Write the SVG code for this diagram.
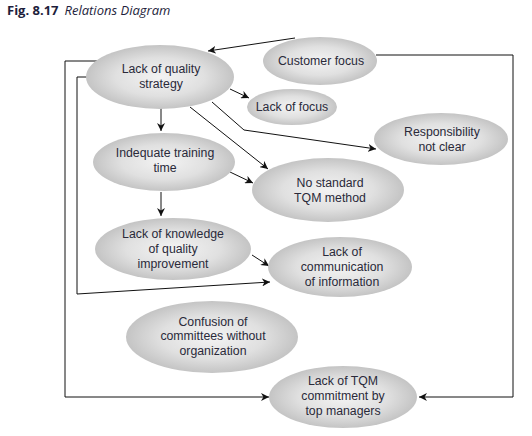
<svg xmlns="http://www.w3.org/2000/svg" width="532" height="436" viewBox="0 0 532 436">
<defs>
<radialGradient id="g" cx="50%" cy="50%" r="50%">
<stop offset="0" stop-color="#f3f3f3"/>
<stop offset="0.6" stop-color="#e0e0e0"/>
<stop offset="1" stop-color="#c4c4c4"/>
</radialGradient>
<marker id="a" viewBox="0 0 10 10" refX="10" refY="5" markerWidth="8" markerHeight="8" markerUnits="userSpaceOnUse" orient="auto">
<path d="M0,0 L10,5 L0,10 L3,5 Z" fill="#111"/>
</marker>
<style>
.n ellipse{fill:url(#g);}
.n text{font-family:"Liberation Sans",Arial,sans-serif;font-size:12.3px;fill:#2a2a3a;text-anchor:middle;}
.c path{fill:none;stroke:#111;stroke-width:1;marker-end:url(#a);}
.c path.p{marker-end:none;}
.t{font-family:"Open Sans","Liberation Sans",sans-serif;font-size:13px;fill:#1e1e3c;}
</style>
</defs>
<rect width="532" height="436" fill="#fff"/>
<text class="t" x="7" y="15"><tspan font-weight="bold">Fig. 8.17</tspan><tspan font-style="italic" dx="6">Relations Diagram</tspan></text>

<g class="c" id="connectors">
<path d="M295,38 L208,51"/>
<path class="p" d="M376,55 L513,55 L513,397"/>
<path d="M513,397 L419,397"/>
<path d="M97,61 L65,61 L65,397 L269,397"/>
<path d="M88,77 L77,77 L77,294 L270,282"/>
<path d="M161,108 L161,131"/>
<path d="M161,192 L161,216"/>
<path d="M230,89 L249,98"/>
<path d="M190,107 L268,169"/>
<path d="M212,102 L244,130 L376,149"/>
<path d="M230,172 L253,183"/>
<path d="M252,255 L269,266"/>
</g>

<g class="n" id="n1"><ellipse cx="160" cy="77" rx="74" ry="32"/><text x="161" y="73">Lack of quality</text><text x="161" y="88">strategy</text></g>
<g class="n" id="n2"><ellipse cx="320" cy="61" rx="57" ry="24"/><text x="321" y="65">Customer focus</text></g>
<g class="n" id="n3"><ellipse cx="292" cy="107" rx="45" ry="18"/><text x="292" y="111">Lack of focus</text></g>
<g class="n" id="n4"><ellipse cx="441" cy="139" rx="67" ry="26"/><text x="442" y="136">Responsibility</text><text x="442" y="151">not clear</text></g>
<g class="n" id="n5"><ellipse cx="164" cy="162" rx="71" ry="29"/><text x="165" y="157">Indequate training</text><text x="165" y="172">time</text></g>
<g class="n" id="n6"><ellipse cx="328" cy="190" rx="76" ry="32"/><text x="330" y="187">No standard</text><text x="330" y="202">TQM method</text></g>
<g class="n" id="n7"><ellipse cx="173" cy="249" rx="78" ry="31"/><text x="173" y="238">Lack of knowledge</text><text x="173" y="253">of quality</text><text x="173" y="268">improvement</text></g>
<g class="n" id="n8"><ellipse cx="340" cy="267" rx="72" ry="30"/><text x="342" y="256">Lack of</text><text x="342" y="271">communication</text><text x="342" y="286">of information</text></g>
<g class="n" id="n9"><ellipse cx="212" cy="337" rx="86" ry="36"/><text x="213" y="326">Confusion of</text><text x="213" y="340">committees without</text><text x="213" y="355">organization</text></g>
<g class="n" id="n10"><ellipse cx="343" cy="397" rx="74" ry="31"/><text x="343" y="385">Lack of TQM</text><text x="343" y="400">commitment by</text><text x="343" y="415">top managers</text></g>
</svg>
